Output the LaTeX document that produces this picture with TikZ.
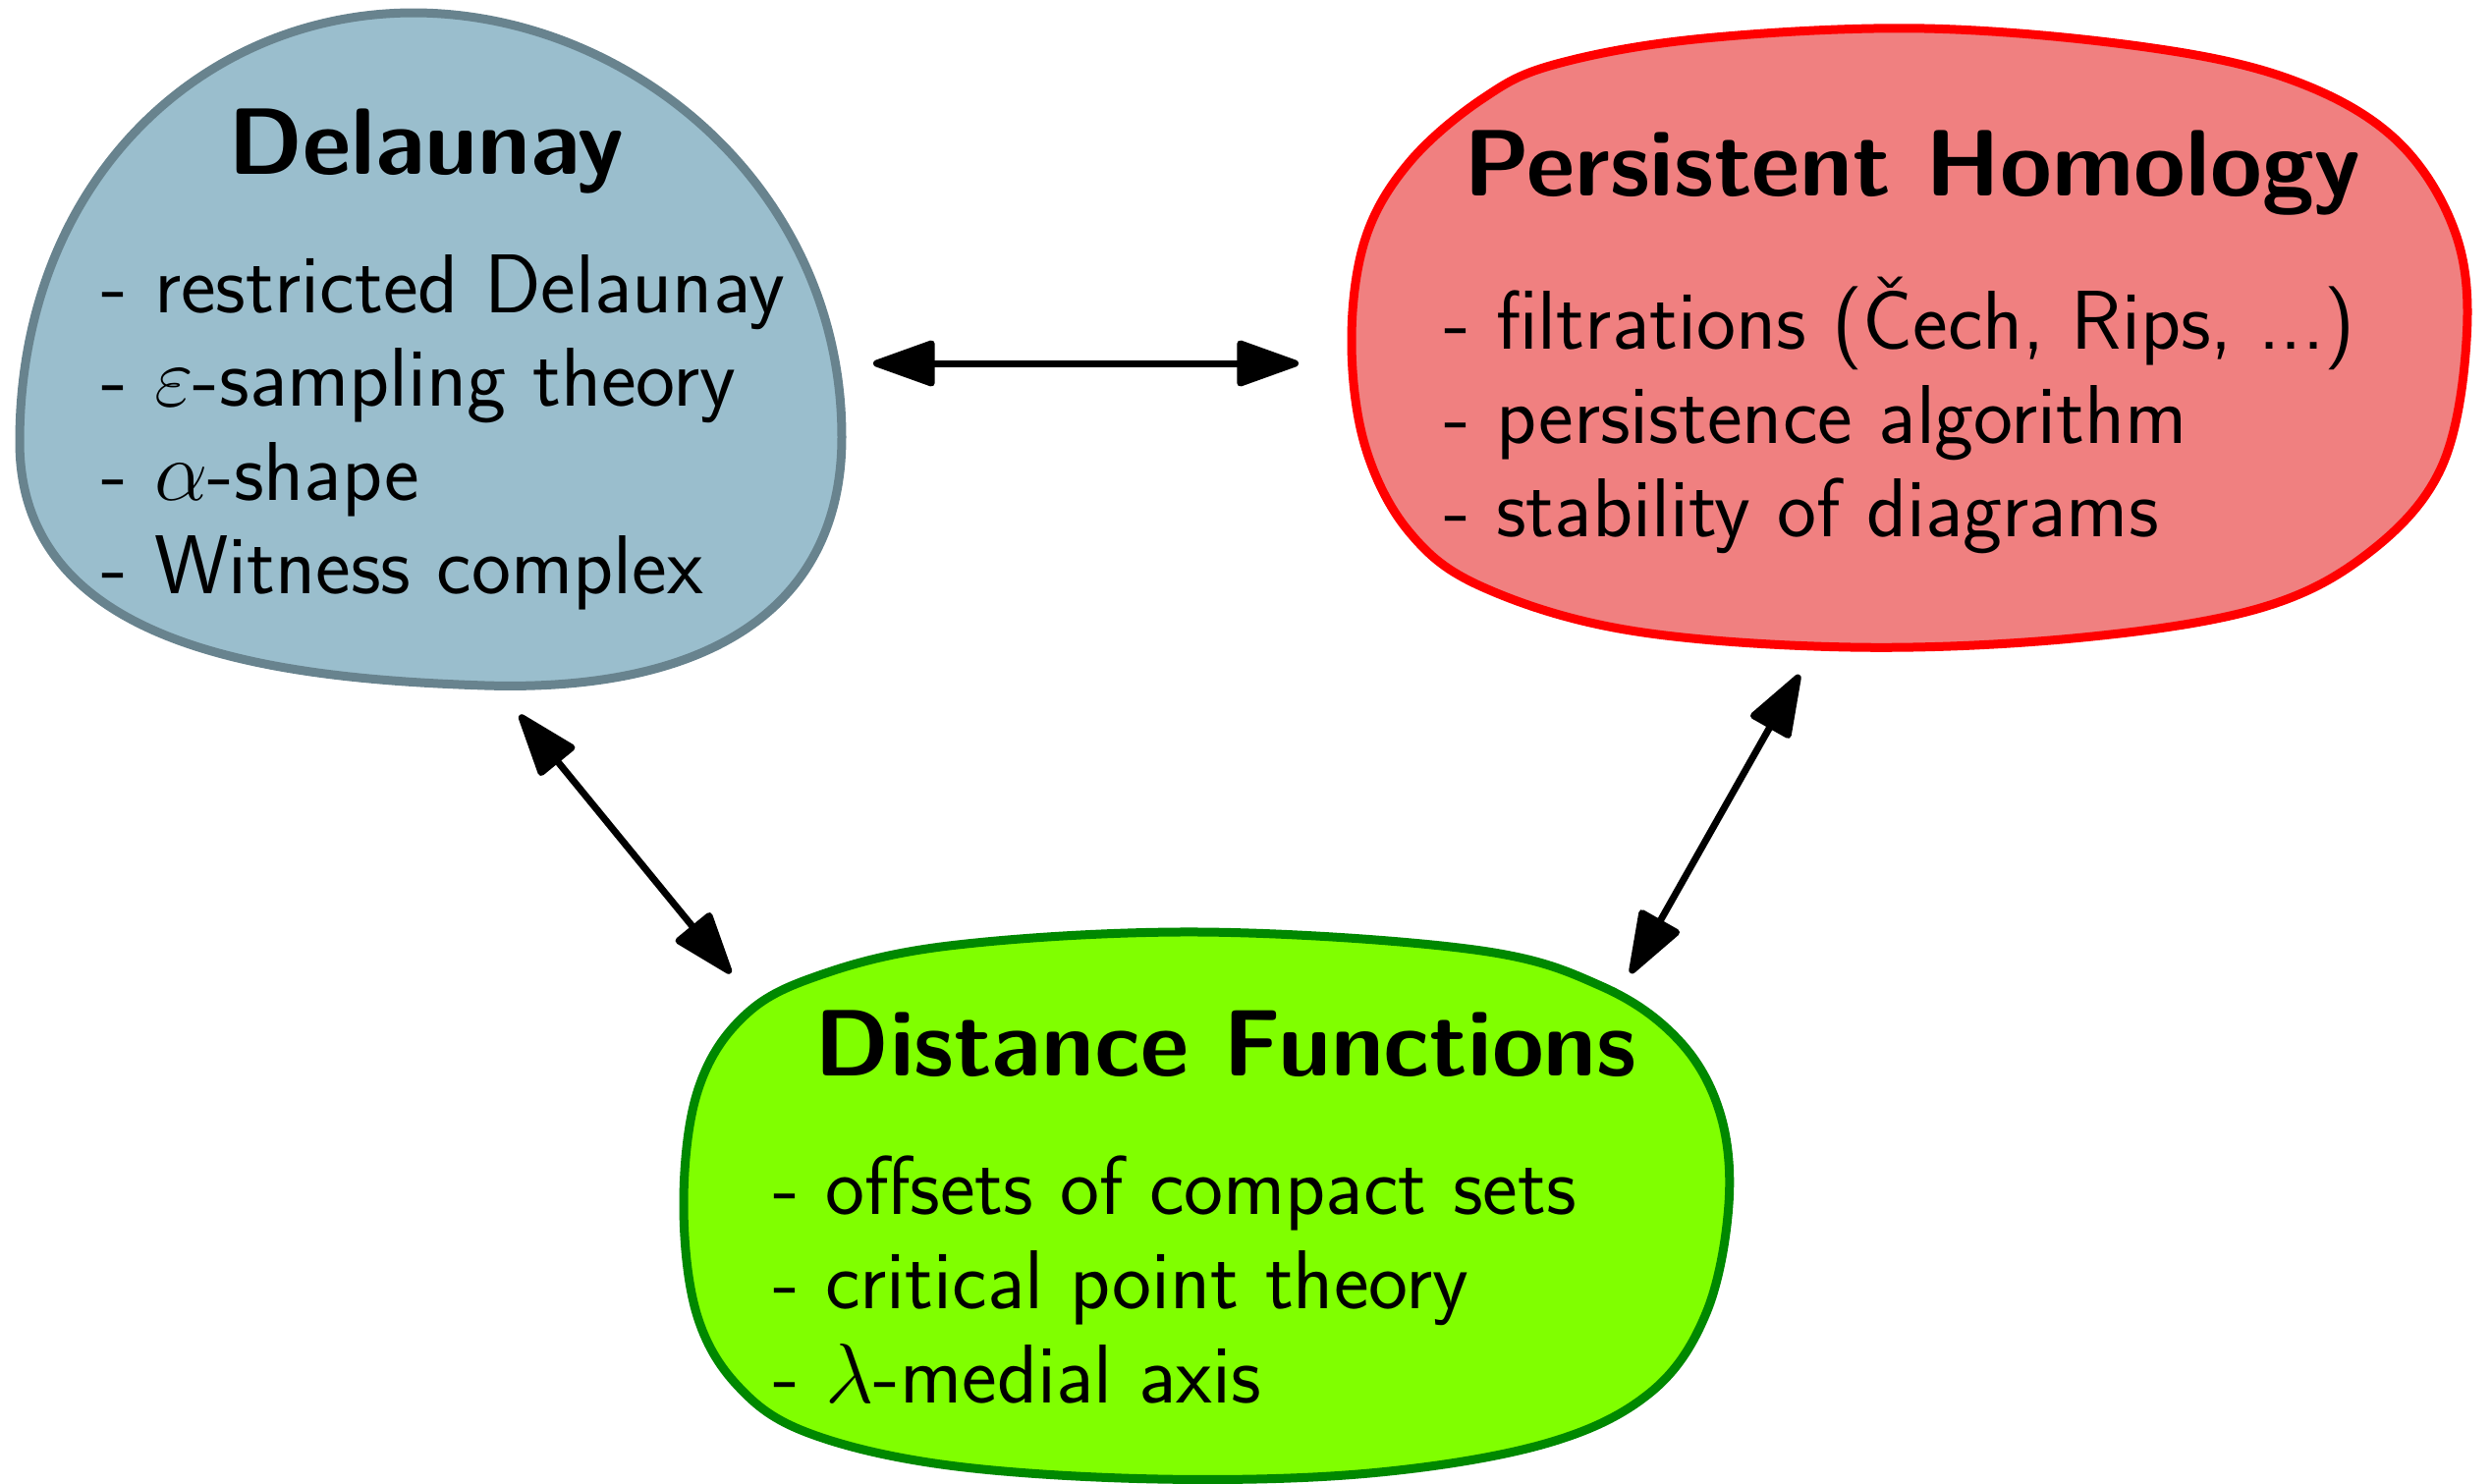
\documentclass[tikz,border=0pt]{standalone}
\usetikzlibrary{arrows.meta}
\definecolor{bluefill}{RGB}{154,190,205}
\definecolor{blueline}{RGB}{104,131,142}
\definecolor{redfill}{RGB}{240,128,128}
\definecolor{redline}{RGB}{255,0,0}
\definecolor{greenfill}{RGB}{128,255,0}
\definecolor{greenline}{RGB}{0,136,0}
\begin{document}
\begin{tikzpicture}[x=0.2pt,y=-0.2pt,
  blob/.style={line width=1.8pt, line join=round},
  ttl/.style={anchor=base, inner sep=0pt, font=\fontsize{19.2}{23}\selectfont\sffamily\bfseries},
  itm/.style={anchor=base west, inner sep=0pt, font=\fontsize{17}{20}\selectfont\sffamily},
  link/.style={line width=1.4pt, {Triangle[round,length=14pt,width=9.6pt]}-{Triangle[round,length=14pt,width=9.6pt]}}]
\useasboundingbox (0,0) rectangle (2536,1510);

% Delaunay blob
\draw[blob, draw=blueline, fill=bluefill]
 (421,13) .. controls (640,13) and (857,190) .. (857,445)
 .. controls (857,620) and (720,705) .. (494,698)
 .. controls (280,691) and (20,660) .. (20,450)
 .. controls (20,185) and (205,13) .. cycle;
% Persistent homology blob
\draw[blob, draw=redline, fill=redfill] plot[smooth cycle, tension=0.6] coordinates {
 (1960,29) (2185,48) (2335,82) (2440,143) (2500,238) (2511,347) (2485,477)
 (2410,564) (2298,620) (2110,650) (1885,659) (1660,642) (1510,598) (1435,542)
 (1390,455) (1376,347) (1390,243) (1435,165) (1510,100) (1585,65) (1735,39)};
% Distance functions blob
\draw[blob, draw=greenline, fill=greenfill] plot[smooth cycle, tension=0.6] coordinates {
 (1223,949) (1501,967) (1630,1004) (1709,1059) (1751,1133) (1760,1226) (1737,1337)
 (1680,1418) (1573,1470) (1394,1500) (1180,1506) (966,1492) (823,1459) (751,1411)
 (709,1337) (696,1226) (709,1115) (751,1041) (823,997) (966,963)};

% texts
\node[ttl] (tD) at (434,177) {Delaunay};
\node[itm] (d1) at (103,318) {- restricted Delaunay};
\node[itm] (d2) at (103,413) {- $\varepsilon$-sampling theory};
\node[itm] (d3) at (103,509) {- $\alpha$-shape};
\node[itm] (d4) at (103,604) {- Witness complex};

\node[ttl] (tP) at (1947,199) {Persistent Homology};
\node[itm] (p1) at (1469,355) {- filtrations (Čech, Rips, ...)};
\node[itm] (p2) at (1469,451) {- persistence algorithm};
\node[itm] (p3) at (1469,546) {- stability of diagrams};

\node[ttl] (tF) at (1248,1095) {Distance Functions};
\node[itm] (f1) at (786,1236) {- offsets of compact sets};
\node[itm] (f2) at (786,1332) {- critical point theory};
\node[itm] (f3) at (786,1428) {- $\lambda$-medial axis};

% connectors
\coordinate (a1) at (889,370);
\coordinate (a2) at (1322,370);
\coordinate (b1) at (529,728);
\coordinate (b2) at (744,991);
\coordinate (c1) at (1832,687);
\coordinate (c2) at (1660,991);
\draw[link] (a1) -- (a2);
\draw[link] (b1) -- (b2);
\draw[link] (c1) -- (c2);
\end{tikzpicture}
\end{document}
